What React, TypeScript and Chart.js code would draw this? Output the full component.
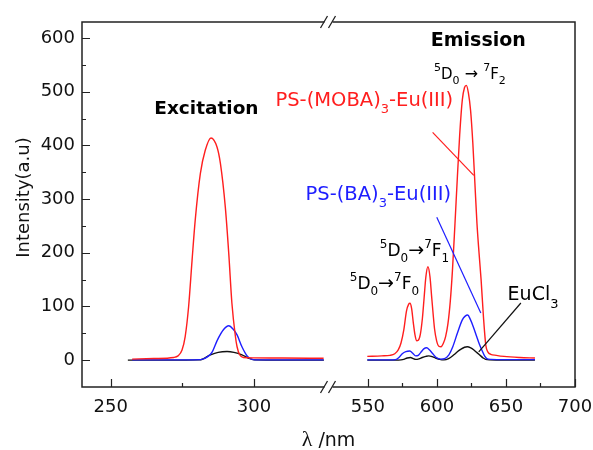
import React, { useEffect, useRef } from 'react';
import { Chart, registerables } from 'chart.js';

Chart.register(...registerables);

// ---- broken axis definition (wavelength in nm) ----
const BREAK_L = 326; // last wavelength shown in left segment
const BREAK_R = 521.5; // first wavelength shown in right segment
const RIGHT_SCALE = 0.4818; // relative compression of right segment
const X_MIN_NM = 240;
const X_MAX_NM = 700;
const Y_MIN = -50;
const Y_MAX = 630;

const toAxis = (w: number) => (w <= BREAK_L ? w : BREAK_L + (w - BREAK_R) * RIGHT_SCALE);
const fromAxis = (v: number) => (v <= BREAK_L + 0.01 ? v : BREAK_R + (v - BREAK_L) / RIGHT_SCALE);

// ---- tick definitions ----
const xMajorTicks = [250, 300, 550, 600, 650, 700];
const xMinorTicks = [275, 575, 625, 675];
const yMajorTicks = [0, 100, 200, 300, 400, 500, 600];
const yMinorTicks = [50, 150, 250, 350, 450, 550];

// ---- Excitation spectra ----
const exRedWl = [257.5, 265, 272, 273.5, 274.9, 276, 277.2, 278.4, 279.5, 281.3, 283, 285, 287.1, 288.3, 290, 291.2, 292.3, 293.5, 294.1, 295, 296.4, 300, 310, 324.3];
const exRedVal = [2, 3, 5, 8, 19, 44, 100, 186, 261, 348, 391, 414, 397, 366, 285, 199, 106, 45, 25, 10, 5, 4.2, 4, 3.5];

const exBlueWl = [257.5, 275, 281.5, 284, 285.5, 287.1, 289.4, 291.2, 292.7, 294.1, 295.8, 297.6, 299.3, 302, 324.3];
const exBlueVal = [0.5, 0.5, 1, 7, 16, 36, 57, 64, 58, 47, 25, 8, 1.5, 0.5, 0.5];

const exBlackWl = [256, 270, 281, 284.8, 287.5, 290.6, 293, 295.8, 298, 300, 310, 324.4];
const exBlackVal = [0, 0, 0.5, 10, 14.5, 16, 14.5, 10, 4, 0.5, 0, 0];

// ---- Emission spectra ----
const emRedWl = [549.6, 560, 566, 569.5, 572, 574, 576, 578, 579.5, 580.5, 581.7, 582.9, 584.2, 585.3, 586.5, 588, 589.5, 590.7, 592, 593.5, 595, 596.2, 597.3, 598.3, 599.8, 601.4, 603, 604.6, 606.3, 608, 609.7, 611.2, 613, 614.8, 616.5, 618.4, 620, 621.3, 622.8, 624.4, 626, 627.5, 629, 630.5, 632, 633.7, 635.4, 637, 639, 643, 648.6, 660, 671];
const emRedVal = [7, 8, 9, 12, 19, 32, 56, 92, 104, 106, 96, 70, 46, 36, 37, 48, 78, 115, 155, 174, 155, 118, 85, 58, 36, 26, 25, 31, 44, 68, 110, 165, 250, 340, 420, 485, 508, 512, 498, 465, 405, 330, 255, 200, 150, 81, 28, 15, 11, 9, 7, 5, 4];

const emBlueWl = [549.6, 566, 570, 572.5, 574.9, 577.5, 580.4, 582.5, 584.6, 586.5, 588.2, 590.5, 592.6, 594.7, 596.7, 599.5, 602.7, 605.5, 608.7, 611.5, 614.8, 618.4, 620.5, 622.3, 624.2, 626.4, 628.8, 630.7, 632.5, 634.5, 636.1, 639, 650, 671];
const emBlueVal = [0.5, 0.5, 1, 5, 12, 16, 17, 13, 8, 9, 14, 21, 23, 19, 13, 5, 2, 3, 10, 25, 50, 75, 82, 84, 76, 62, 44, 30, 19, 8, 3, 1.5, 1, 1];

const emBlackWl = [549.6, 570, 574, 576, 578.5, 580.9, 582.8, 584.6, 587, 589.4, 592, 594.2, 596.5, 599, 602, 605.1, 608.5, 612.3, 615, 617.2, 620, 622, 624.5, 626.8, 629, 631.7, 633.5, 635.3, 638, 650, 671];
const emBlackVal = [0, 0, 0.5, 1.5, 4, 5, 3, 1.5, 2.5, 5, 7, 8, 6.5, 4, 1.5, 0.5, 3, 10, 16, 20, 24, 25, 23, 19, 14, 8, 4, 1.5, 0.5, 0, 0];

const RED = '#ff1e1e';
const BLUE = '#1e1eff';
const BLACK = '#111111';
const FONT = '"DejaVu Sans", "Liberation Sans", sans-serif';

const pts = (wl: number[], val: number[]) => wl.map((w, i) => ({ x: toAxis(w), y: val[i] }));

type Part = { t: string; s: number; dy?: number; bold?: boolean; family?: string };

function drawRich(ctx: CanvasRenderingContext2D, x: number, y: number, parts: Part[], color: string, align: 'left' | 'center' = 'left') {
  ctx.save();
  ctx.fillStyle = color;
  ctx.textBaseline = 'alphabetic';
  ctx.textAlign = 'left';
  const fontOf = (p: Part) => `${p.bold ? 'bold ' : ''}${p.s}px ${p.family || FONT}`;
  let total = 0;
  for (const p of parts) {
    ctx.font = fontOf(p);
    total += ctx.measureText(p.t).width;
  }
  let cx = align === 'center' ? x - total / 2 : x;
  for (const p of parts) {
    ctx.font = fontOf(p);
    ctx.fillText(p.t, cx, y + (p.dy || 0));
    cx += ctx.measureText(p.t).width;
  }
  ctx.restore();
}

const decorPlugin = {
  id: 'decor',
  afterDraw(chart: any) {
    const { ctx, chartArea, scales } = chart;
    const xs = scales.x;
    const ys = scales.y;
    const X = (w: number) => xs.getPixelForValue(toAxis(w));
    const Y = (v: number) => ys.getPixelForValue(v);
    const { left, right, top, bottom } = chartArea;

    ctx.save();
    // frame
    ctx.strokeStyle = '#222';
    ctx.lineWidth = 1.5;
    ctx.strokeRect(left, top, right - left, bottom - top);

    // inward ticks
    ctx.lineWidth = 1.2;
    ctx.beginPath();
    for (const v of yMajorTicks) { const y = Math.round(Y(v)) + 0.5; ctx.moveTo(left, y); ctx.lineTo(left + 8, y); }
    for (const v of yMinorTicks) { const y = Math.round(Y(v)) + 0.5; ctx.moveTo(left, y); ctx.lineTo(left + 4, y); }
    for (const w of xMajorTicks) { const x = Math.round(X(w)) + 0.5; ctx.moveTo(x, bottom); ctx.lineTo(x, bottom - 8); }
    for (const w of xMinorTicks) { const x = Math.round(X(w)) + 0.5; ctx.moveTo(x, bottom); ctx.lineTo(x, bottom - 4); }
    ctx.stroke();

    // axis break marks
    const bx = xs.getPixelForValue(BREAK_L) + 1;
    for (const by of [top, bottom]) {
      ctx.fillStyle = '#ffffff';
      ctx.fillRect(bx - 5, by - 2.5, 8, 5);
      ctx.strokeStyle = '#222';
      ctx.lineWidth = 1.3;
      ctx.beginPath();
      ctx.moveTo(bx - 9, by + 6); ctx.lineTo(bx - 2, by - 6);
      ctx.moveTo(bx - 1, by + 6); ctx.lineTo(bx + 6, by - 6);
      ctx.stroke();
    }

    // pointer lines
    const line = (w1: number, v1: number, w2: number, v2: number, c: string) => {
      ctx.strokeStyle = c;
      ctx.lineWidth = 1.2;
      ctx.beginPath();
      ctx.moveTo(X(w1), Y(v1));
      ctx.lineTo(X(w2), Y(v2));
      ctx.stroke();
    };
    line(596.9, 424.3, 626.7, 344.4, RED);
    line(599.9, 266.4, 631.8, 88, BLUE);
    line(660.8, 106.5, 630.3, 15.4, BLACK);

    // annotations
    drawRich(ctx, X(283.4), Y(459), [{ t: 'Excitation', s: 18.5, bold: true }], '#000', 'center');
    drawRich(ctx, X(630), Y(584.8), [{ t: 'Emission', s: 19, bold: true }], '#000', 'center');
    drawRich(ctx, X(307.5), Y(472.6), [
      { t: 'PS-(MOBA)', s: 19.5 }, { t: '3', s: 13, dy: 7 }, { t: '-Eu(III)', s: 19.5 },
    ], RED);
    drawRich(ctx, X(318), Y(298), [
      { t: 'PS-(BA)', s: 19.5 }, { t: '3', s: 13, dy: 7 }, { t: '-Eu(III)', s: 19.5 },
    ], BLUE);
    drawRich(ctx, X(597.9), Y(524.2), [
      { t: '5', s: 11, dy: -8 }, { t: 'D', s: 15 }, { t: '0', s: 11, dy: 5 },
      { t: ' \u2192 ', s: 16 }, { t: '7', s: 11, dy: -8 }, { t: 'F', s: 15 }, { t: '2', s: 11, dy: 5 },
    ], '#000');
    drawRich(ctx, X(558.7), Y(193.9), [
      { t: '5', s: 12, dy: -8 }, { t: 'D', s: 17 }, { t: '0', s: 12, dy: 6 },
      { t: '\u2192', s: 19 }, { t: '7', s: 12, dy: -8 }, { t: 'F', s: 17 }, { t: '1', s: 12, dy: 6 },
    ], '#000');
    drawRich(ctx, X(536.9), Y(132), [
      { t: '5', s: 12, dy: -8 }, { t: 'D', s: 17 }, { t: '0', s: 12, dy: 6 },
      { t: '\u2192', s: 19 }, { t: '7', s: 12, dy: -8 }, { t: 'F', s: 17 }, { t: '0', s: 12, dy: 6 },
    ], '#000');
    drawRich(ctx, X(651.2), Y(112), [
      { t: 'EuCl', s: 19 }, { t: '3', s: 13, dy: 8 },
    ], '#000');

    // x axis title
    drawRich(ctx, (left + right) / 2, 446, [
      { t: '\u03bb', s: 22, family: '"Liberation Serif", serif' }, { t: ' /nm', s: 19 },
    ], '#111', 'center');

    // y axis title
    ctx.save();
    ctx.translate(24, (top + bottom) / 2 - 7);
    ctx.rotate(-Math.PI / 2);
    ctx.fillStyle = '#111';
    ctx.font = `18px ${FONT}`;
    ctx.textAlign = 'center';
    ctx.textBaseline = 'middle';
    ctx.fillText('Intensity(a.u)', 0, 0);
    ctx.restore();

    ctx.restore();
  },
};

export default function App() {
  const ref = useRef<HTMLCanvasElement | null>(null);

  useEffect(() => {
    document.body.style.margin = '0';
    const canvas = ref.current;
    if (!canvas) return;
    const ds = (label: string, wl: number[], val: number[], color: string) => ({
      label,
      data: pts(wl, val),
      borderColor: color,
      backgroundColor: color,
      borderWidth: 1.4,
      pointRadius: 0,
      cubicInterpolationMode: 'monotone' as const,
      fill: false,
    });
    const chart = new Chart(canvas, {
      type: 'line',
      data: {
        datasets: [
          ds('PS-(MOBA)3-Eu(III) excitation', exRedWl, exRedVal, RED),
          ds('PS-(MOBA)3-Eu(III) emission', emRedWl, emRedVal, RED),
          ds('PS-(BA)3-Eu(III) excitation', exBlueWl, exBlueVal, BLUE),
          ds('PS-(BA)3-Eu(III) emission', emBlueWl, emBlueVal, BLUE),
          ds('EuCl3 excitation', exBlackWl, exBlackVal, BLACK),
          ds('EuCl3 emission', emBlackWl, emBlackVal, BLACK),
        ],
      },
      options: {
        responsive: false,
        animation: false,
        devicePixelRatio: 1,
        layout: { padding: { left: 0, right: 18, top: 22, bottom: 0 } },
        plugins: { legend: { display: false }, tooltip: { enabled: false } },
        scales: {
          x: {
            type: 'linear',
            min: X_MIN_NM,
            max: toAxis(X_MAX_NM),
            grid: { display: false, drawTicks: false },
            border: { display: false },
            afterBuildTicks: (scale: any) => {
              scale.ticks = xMajorTicks.map((w) => ({ value: toAxis(w) }));
            },
            afterFit: (scale: any) => {
              scale.height = 63;
              scale.paddingLeft = 0;
              scale.paddingRight = 0;
            },
            ticks: {
              autoSkip: false,
              maxRotation: 0,
              padding: 10,
              color: '#111',
              font: { family: FONT, size: 18 },
              callback: (v: any) => String(Math.round(fromAxis(Number(v)))),
            },
          },
          y: {
            type: 'linear',
            min: Y_MIN,
            max: Y_MAX,
            grid: { display: false, drawTicks: false },
            border: { display: false },
            afterBuildTicks: (scale: any) => {
              scale.ticks = yMajorTicks.map((v) => ({ value: v }));
            },
            afterFit: (scale: any) => {
              scale.width = 82;
              scale.paddingTop = 0;
              scale.paddingBottom = 0;
            },
            ticks: {
              padding: 7,
              color: '#111',
              font: { family: FONT, size: 18 },
            },
            title: { display: false },
          },
        },
      },
      plugins: [decorPlugin],
    });
    return () => chart.destroy();
  }, []);

  return (
    <div style={{ width: 593, height: 450 }}>
      <canvas ref={ref} width={593} height={450} style={{ display: 'block' }} />
    </div>
  );
}
